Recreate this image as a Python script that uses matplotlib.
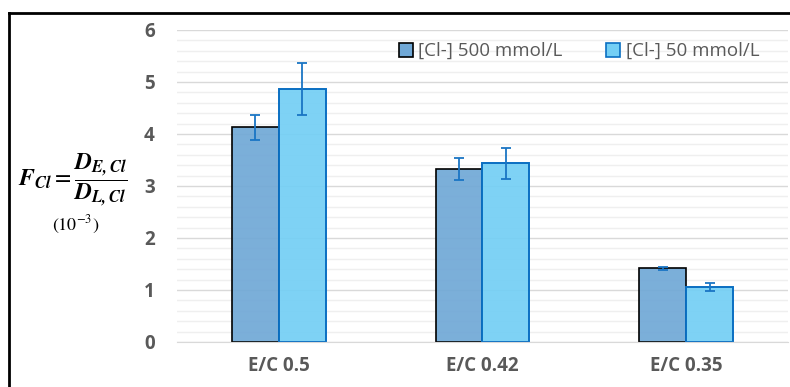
import numpy as np
import matplotlib.pyplot as plt
from matplotlib.patches import Patch
from matplotlib.lines import Line2D
from matplotlib.ticker import MultipleLocator

# --------- data ---------
categories = ["E/C 0.5", "E/C 0.42", "E/C 0.35"]
series_names = ["[Cl-] 500 mmol/L", "[Cl-] 50 mmol/L"]
vals_500 = [4.13, 3.33, 1.42]
err_500 = [0.24, 0.21, 0.03]
vals_50 = [4.87, 3.44, 1.06]
err_50 = [0.50, 0.30, 0.07]

plt.rcParams["mathtext.fontset"] = "stix"

fig = plt.figure(figsize=(7.9, 3.87), dpi=100)
ax = fig.add_axes([0.224, 0.1163, 0.7735, 0.8062])

x = np.arange(len(categories))
w = 0.23
err_col = "#1a75c4"
ax.bar(x - w / 2, vals_500, w, facecolor=(0.44, 0.66, 0.84, 0.92),
       edgecolor="black", linewidth=1.2, zorder=2)
ax.bar(x + w / 2, vals_50, w, facecolor=(0.45, 0.81, 0.96, 0.92),
       edgecolor="#0a6fc2", linewidth=1.4, zorder=2)
ax.errorbar(x - w / 2, vals_500, yerr=err_500, fmt="none", ecolor=err_col,
            elinewidth=1.3, capsize=3.4, capthick=1.3, zorder=3)
ax.errorbar(x + w / 2, vals_50, yerr=err_50, fmt="none", ecolor=err_col,
            elinewidth=1.3, capsize=3.4, capthick=1.3, zorder=3)

ax.set_xlim(-0.5, 2.5)
ax.set_ylim(0, 6)
ax.yaxis.set_major_locator(MultipleLocator(1))
ax.yaxis.set_minor_locator(MultipleLocator(0.2))
ax.grid(axis="y", which="major", color="#d9d9d9", linewidth=1.0, zorder=0)
ax.grid(axis="y", which="minor", color="#efefef", linewidth=1.0, zorder=0)
ax.set_axisbelow(True)
for s in ["top", "right", "left"]:
    ax.spines[s].set_visible(False)
ax.spines["bottom"].set_color("#d9d9d9")
ax.tick_params(axis="both", which="both", length=0)
ax.tick_params(axis="y", pad=16)
ax.tick_params(axis="x", pad=10)
ax.set_xticks(x)
ax.set_xticklabels(categories)
for lab in ax.get_xticklabels() + ax.get_yticklabels():
    lab.set_fontweight("bold")
    lab.set_color("#595959")
    lab.set_fontsize(13.5)
    lab.set_family("Open Sans")

handles = [Patch(facecolor=(0.44, 0.66, 0.84), edgecolor="black", linewidth=1.2),
           Patch(facecolor=(0.45, 0.81, 0.96), edgecolor="#0a6fc2", linewidth=1.2)]
leg = ax.legend(handles, series_names, loc="upper right", bbox_to_anchor=(0.965, 0.985),
                ncol=2, frameon=False, handlelength=0.75, handleheight=0.75,
                handletextpad=0.3, columnspacing=2.3, borderaxespad=0.0,
                prop={"family": "Open Sans", "size": 13.5})
for t in leg.get_texts():
    t.set_color("#595959")

# y label as formula
fig.text(0.092, 0.535,
         r"$\mathbfit{F_{Cl}}=\dfrac{\mathbfit{D_{E,Cl}}}{\mathbfit{D_{L,Cl}}}$",
         ha="center", va="center", fontsize=17)
fig.text(0.096, 0.418, r"$(10^{-3})$", ha="center", va="center", fontsize=13)

# outer frame (top and left)
fig.add_artist(Line2D([0.0114, 1.0], [0.9664, 0.9664], color="black", linewidth=2,
                      transform=fig.transFigure))
fig.add_artist(Line2D([0.0114, 0.0114], [0.0, 0.9664], color="black", linewidth=2,
                      transform=fig.transFigure))

fig.savefig("out.png", dpi=100)
